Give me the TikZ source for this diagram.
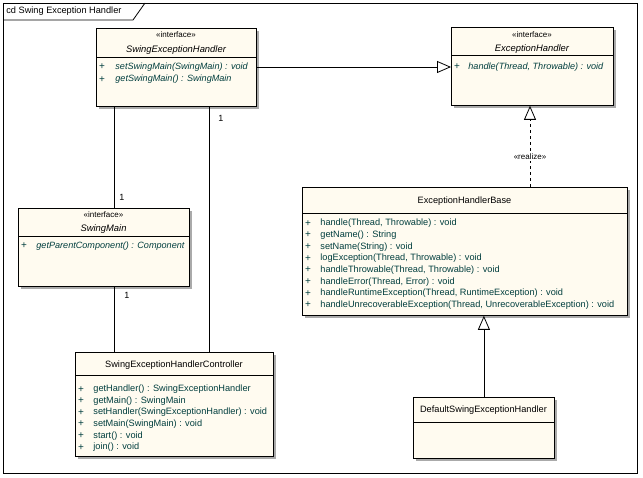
\documentclass[tikz,border=0pt]{standalone}
\usepackage{fontspec}
\setmainfont{Liberation Sans}
\usetikzlibrary{shadows,arrows.meta,calc}
\definecolor{cream}{RGB}{255,251,240}
\definecolor{mtxt}{RGB}{0,62,62}
\definecolor{shade}{RGB}{170,170,170}
\begin{document}
\begin{tikzpicture}[x=1pt,y=-1pt,
  font=\fontsize{9.2}{11}\selectfont,
  line width=0.8pt,
  box/.style={draw, fill=cream, inner sep=0pt, anchor=north west,
    drop shadow={shadow xshift=3pt, shadow yshift=-3pt, fill=shade, opacity=1}},
  stereo/.style={font=\fontsize{8}{9}\selectfont, inner sep=0pt},
  cname/.style={inner sep=0pt},
  iname/.style={inner sep=0pt, font=\fontsize{9.4}{11}\selectfont\itshape},
  plus/.style={inner sep=0pt, text=mtxt, font=\fontsize{10}{11}\selectfont},
  meth/.style={inner sep=0pt, anchor=west, text=mtxt},
  imeth/.style={inner sep=0pt, anchor=west, text=mtxt, font=\fontsize{9.1}{11}\selectfont\itshape},
  mult/.style={inner sep=0pt, font=\fontsize{9}{10}\selectfont},
  gen/.style={-{Triangle[open,length=14pt,width=12pt]}},
]
\useasboundingbox (0,0) rectangle (643,478);
\fill[white] (0,0) rectangle (643,478);
% frame
\draw (3,3) rectangle (637,473);
\draw (3,20) -- (133,20) -- (145,3);
\node[anchor=west, inner sep=0pt] (title) at (6,11.5) {cd Swing Exception Handler};

% SwingExceptionHandler
\node[box, minimum width=160pt, minimum height=78pt] (seh) at (96,28) {};
\draw (96,57) -- (256,57);
\node[stereo] (sehs) at (176,35) {«interface»};
\node[iname] (sehn) at (176,50) {SwingExceptionHandler};
\node[plus] (sehp1) at (102,67) {+};
\node[imeth] (sehm1) at (115,67) {setSwingMain(SwingMain) : void};
\node[plus] (sehp2) at (102,79.5) {+};
\node[imeth] (sehm2) at (115,79.5) {getSwingMain() : SwingMain};

% ExceptionHandler
\node[box, minimum width=162pt, minimum height=78pt] (eh) at (451,27) {};
\draw (451,55) -- (613,55);
\node[stereo] (ehs) at (532,35) {«interface»};
\node[iname] (ehn) at (532,49) {ExceptionHandler};
\node[plus] (ehp1) at (457,67) {+};
\node[imeth] (ehm1) at (468,67) {handle(Thread, Throwable) : void};

% SwingMain
\node[box, minimum width=171pt, minimum height=78pt] (sm) at (18,208) {};
\draw (18,236) -- (189,236);
\node[stereo] (sms) at (103.5,215) {«interface»};
\node[iname] (smn) at (103.5,229) {SwingMain};
\node[plus] (smp1) at (24,246) {+};
\node[imeth] (smm1) at (36,246) {getParentComponent() : Component};

% ExceptionHandlerBase
\node[box, minimum width=325pt, minimum height=128pt] (ehb) at (302,187) {};
\draw (302,213) -- (627,213);
\node[cname] (ehbn) at (464.5,201) {ExceptionHandlerBase};
\foreach \t [count=\i] in {
  {handle(Thread, Throwable) : void},
  {getName() : String},
  {setName(String) : void},
  {logException(Thread, Throwable) : void},
  {handleThrowable(Thread, Throwable) : void},
  {handleError(Thread, Error) : void},
  {handleRuntimeException(Thread, RuntimeException) : void},
  {handleUnrecoverableException(Thread, UnrecoverableException) : void}}{
  \node[plus] (ehbp\i) at (308,{223.3+(\i-1)*11.67}) {+};
  \node[meth] (ehbm\i) at (320,{223.3+(\i-1)*11.67}) {\t};
}

% SwingExceptionHandlerController
\node[box, minimum width=198pt, minimum height=104pt] (ctl) at (75,352) {};
\draw (75,375) -- (273,375);
\node[cname] (ctln) at (174,365) {SwingExceptionHandlerController};
\foreach \t [count=\i] in {
  {getHandler() : SwingExceptionHandler},
  {getMain() : SwingMain},
  {setHandler(SwingExceptionHandler) : void},
  {setMain(SwingMain) : void},
  {start() : void},
  {join() : void}}{
  \node[plus] (ctlp\i) at (81,{389.3+(\i-1)*11.6}) {+};
  \node[meth] (ctlm\i) at (93,{389.3+(\i-1)*11.6}) {\t};
}

% DefaultSwingExceptionHandler
\node[box, minimum width=141pt, minimum height=61pt] (dsh) at (413,397) {};
\draw (413,422) -- (554,422);
\node[cname] (dshn) at (483.5,410) {DefaultSwingExceptionHandler};

% connectors
\coordinate (xa) at (114,0);
\coordinate (xb) at (209,0);
\coordinate (xc) at (530,0);
\draw[gen] (seh.east |- sehm1) -- (eh.west |- sehm1);
\draw[gen, dash pattern=on 3pt off 3pt] (ehb.north -| xc) -- (eh.south -| xc);
\node[stereo, fill=white, inner sep=1pt] (real) at (530,157) {«realize»};
\draw[gen] (dsh.north) -- (ehb.south -| dsh.north);
\draw (seh.south -| xa) -- (sm.north -| xa);
\draw (seh.south -| xb) -- (ctl.north -| xb);
\draw (sm.south -| xa) -- (ctl.north -| xa);
\node[mult] (m1) at (221,118) {1};
\node[mult] (m2) at (122,197) {1};
\node[mult] (m3) at (127,295) {1};
\end{tikzpicture}
\end{document}
